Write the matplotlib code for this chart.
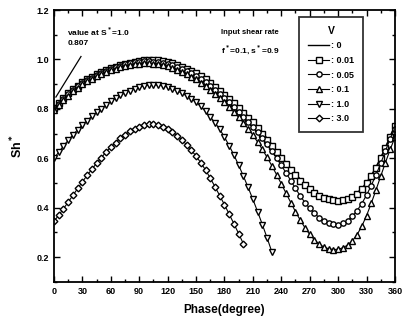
import matplotlib
matplotlib.use('Agg')
import matplotlib.pyplot as plt
from matplotlib.ticker import MultipleLocator

plt.rcParams['font.family'] = ['Liberation Sans', 'DejaVu Sans']
plt.rcParams['font.weight'] = 'bold'
plt.rcParams['mathtext.default'] = 'bf'

# phase grid (degree)
phase_full = list(range(0, 361, 5))
phase_v1 = list(range(0, 231, 5))
phase_v3 = list(range(0, 201, 5))

# Sh*
sh_v0 = [0.805, 0.826, 0.846, 0.864, 0.880, 0.895, 0.908, 0.920, 0.931, 0.941, 0.950, 0.958,
         0.965, 0.972, 0.978, 0.983, 0.988, 0.992, 0.995, 0.997, 0.998, 0.998, 0.997, 0.994,
         0.990, 0.985, 0.979, 0.972, 0.964, 0.955, 0.945, 0.934, 0.921, 0.907, 0.892, 0.877,
         0.861, 0.844, 0.826, 0.808, 0.789, 0.770, 0.750, 0.728, 0.705, 0.681, 0.656, 0.631,
         0.606, 0.582, 0.559, 0.537, 0.516, 0.497, 0.480, 0.466, 0.454, 0.445, 0.438, 0.434,
         0.433, 0.435, 0.439, 0.447, 0.460, 0.478, 0.502, 0.531, 0.565, 0.603, 0.645, 0.690,
         0.735]
sh_v001 = [0.804, 0.825, 0.845, 0.863, 0.879, 0.894, 0.907, 0.919, 0.930, 0.940, 0.949, 0.957,
           0.964, 0.971, 0.977, 0.982, 0.987, 0.991, 0.994, 0.996, 0.997, 0.997, 0.996, 0.993,
           0.989, 0.984, 0.978, 0.971, 0.963, 0.954, 0.944, 0.932, 0.919, 0.905, 0.890, 0.874,
           0.858, 0.841, 0.823, 0.804, 0.785, 0.765, 0.745, 0.723, 0.700, 0.676, 0.651, 0.625,
           0.600, 0.576, 0.553, 0.531, 0.510, 0.491, 0.475, 0.461, 0.449, 0.440, 0.434, 0.430,
           0.429, 0.431, 0.436, 0.444, 0.457, 0.475, 0.499, 0.528, 0.562, 0.600, 0.642, 0.687,
           0.732]
sh_v005 = [0.800, 0.821, 0.841, 0.859, 0.876, 0.891, 0.904, 0.916, 0.927, 0.937, 0.946, 0.954,
           0.962, 0.969, 0.975, 0.980, 0.984, 0.988, 0.990, 0.992, 0.992, 0.991, 0.989, 0.986,
           0.982, 0.976, 0.970, 0.962, 0.954, 0.944, 0.933, 0.921, 0.908, 0.893, 0.878, 0.862,
           0.845, 0.827, 0.808, 0.789, 0.769, 0.748, 0.727, 0.705, 0.681, 0.656, 0.629, 0.601,
           0.572, 0.541, 0.510, 0.478, 0.448, 0.421, 0.397, 0.377, 0.360, 0.347, 0.338, 0.333,
           0.332, 0.337, 0.348, 0.365, 0.388, 0.417, 0.451, 0.490, 0.533, 0.580, 0.630, 0.680,
           0.720]
sh_v01 = [0.795, 0.816, 0.836, 0.854, 0.871, 0.886, 0.899, 0.911, 0.922, 0.932, 0.941, 0.949,
          0.956, 0.963, 0.969, 0.974, 0.978, 0.981, 0.983, 0.984, 0.984, 0.983, 0.981, 0.977,
          0.972, 0.966, 0.959, 0.951, 0.942, 0.931, 0.919, 0.906, 0.892, 0.877, 0.861, 0.844,
          0.826, 0.807, 0.787, 0.766, 0.744, 0.720, 0.694, 0.666, 0.636, 0.604, 0.570, 0.534,
          0.497, 0.459, 0.421, 0.384, 0.350, 0.319, 0.292, 0.270, 0.253, 0.241, 0.234, 0.231,
          0.232, 0.238, 0.249, 0.266, 0.291, 0.325, 0.368, 0.418, 0.472, 0.528, 0.583, 0.636,
          0.685]
sh_v1 = [0.600, 0.625, 0.650, 0.673, 0.695, 0.716, 0.735, 0.753, 0.770, 0.786, 0.801, 0.816,
         0.830, 0.843, 0.855, 0.865, 0.874, 0.882, 0.888, 0.893, 0.896, 0.897, 0.896, 0.893,
         0.888, 0.881, 0.873, 0.864, 0.853, 0.841, 0.827, 0.810, 0.790, 0.768, 0.744, 0.718,
         0.686, 0.651, 0.613, 0.572, 0.528, 0.482, 0.434, 0.384, 0.332, 0.278, 0.222]
sh_v3 = [0.345, 0.370, 0.396, 0.423, 0.450, 0.478, 0.505, 0.531, 0.556, 0.580, 0.603, 0.625,
         0.645, 0.664, 0.681, 0.696, 0.709, 0.720, 0.728, 0.734, 0.737, 0.737, 0.734, 0.728,
         0.719, 0.707, 0.692, 0.675, 0.655, 0.633, 0.609, 0.582, 0.553, 0.520, 0.485, 0.449,
         0.412, 0.374, 0.335, 0.295, 0.254]

fig = plt.figure(figsize=(4.03, 3.24), dpi=100)
ax = fig.add_axes([0.134, 0.130, 0.846, 0.839])

mk = dict(mfc='white', mec='black', mew=1.0, ms=3.8, color='black', lw=0.8)
ax.plot(phase_full, sh_v0, '-', color='black', lw=1.0, label=': 0')
ax.plot(phase_full, sh_v001, marker='s', label=': 0.01', **mk)
ax.plot(phase_full, sh_v005, marker='o', label=': 0.05', **mk)
ax.plot(phase_full, sh_v01, marker='^', label=': 0.1', **mk)
ax.plot(phase_v1, sh_v1, marker='v', label=': 1.0', **mk)
ax.plot(phase_v3, sh_v3, marker='D', label=': 3.0', **dict(mk, ms=3.4))

ax.set_xlim(0, 360)
ax.set_ylim(0.1, 1.2)
ax.xaxis.set_major_locator(MultipleLocator(30))
ax.xaxis.set_minor_locator(MultipleLocator(15))
ax.yaxis.set_major_locator(MultipleLocator(0.2))
ax.yaxis.set_minor_locator(MultipleLocator(0.1))
ax.tick_params(which='both', direction='in', top=True, right=True, labelsize=6.5, width=1)
ax.tick_params(which='major', length=4)
ax.tick_params(which='minor', length=2)
for s in ax.spines.values():
    s.set_linewidth(1.3)

ax.set_xlabel('Phase(degree)', fontsize=8.5, fontweight='bold', labelpad=6)
ax.set_ylabel('Sh$^*$', fontsize=9, fontweight='bold', labelpad=8)

ax.text(14, 1.11, 'value at S$^*$=1.0', fontsize=6, fontweight='bold', va='center')
ax.text(14, 1.065, '0.807', fontsize=6, fontweight='bold', va='center')
ax.plot([2, 28.5], [0.848, 1.012], color='black', lw=0.9)
ax.text(176, 1.108, 'Input shear rate', fontsize=5.5, fontweight='bold', va='center')
ax.text(176, 1.04, 'f$^*$=0.1, s$^*$=0.9', fontsize=6, fontweight='bold', va='center')

leg = ax.legend(title='V', loc='upper left', bbox_to_anchor=(0.718, 0.975), fontsize=6.5,
                title_fontsize=7.5, frameon=True, fancybox=False, edgecolor='black',
                handlelength=2.4, labelspacing=0.62, borderpad=1.0, handletextpad=0.2,
                borderaxespad=0)
leg.get_frame().set_linewidth(1.3)
leg.get_title().set_fontweight('bold')

fig.savefig('out.png', dpi=100)
